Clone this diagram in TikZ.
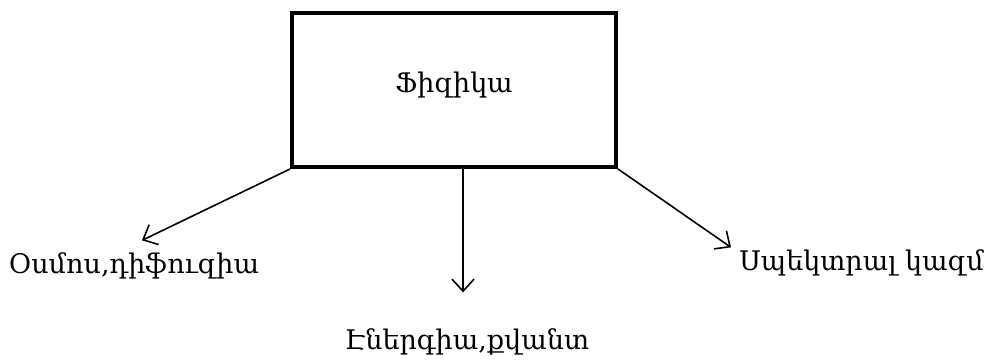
\documentclass[tikz,border=0pt]{standalone}
\usepackage{fontspec}
\setmainfont{DejaVu Serif}
\usepackage{tikz}
\usetikzlibrary{arrows.meta,positioning}

\begin{document}
\begin{tikzpicture}[
  x=0.5pt, y=-0.5pt,
  box/.style={rectangle, draw=black, line width=2pt, minimum width=162pt, minimum height=77pt, align=center, font=\fontsize{13.5}{16}\selectfont},
  label/.style={inner sep=1pt, font=\fontsize{13.5}{16}\selectfont},
  arrow/.style={-{Straight Barb[length=6pt,width=11pt]}, line width=0.8pt}
]
\useasboundingbox (0,0) rectangle (994,361);
\node[box] (phys) at (454,90) {\raisebox{8pt}{Ֆիզիկա}};
\node[label] (osmos) at (134,266) {Օսմոս,դիֆուզիա};
\node[label] (energy) at (467,342) {Էներգիա,քվանտ};
\node[label, anchor=west] (spectr) at (737,263) {Սպեկտրալ կազմ};
\draw[arrow] (phys.south west) -- ([xshift=4pt,yshift=5pt]osmos.north);
\draw[arrow, shorten >=17pt] ([xshift=-2pt]energy.north |- phys.south) -- ([xshift=-2pt]energy.north);
\draw[arrow] (phys.south east) -- ([xshift=-3pt]spectr.north west);
\end{tikzpicture}
\end{document}
